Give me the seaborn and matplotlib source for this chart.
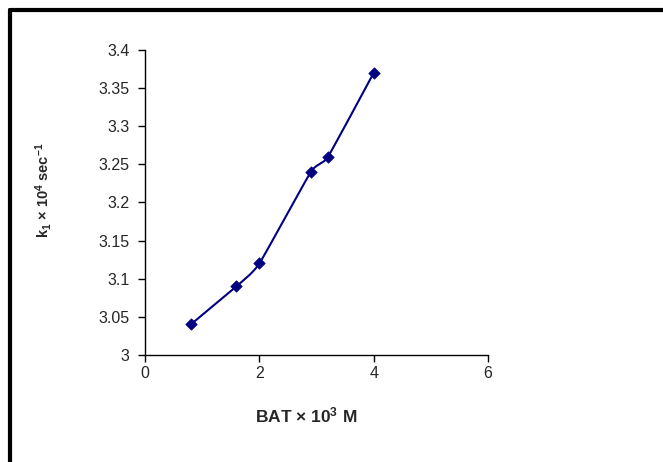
import numpy as np
import pandas as pd
import matplotlib
matplotlib.use("Agg")
import matplotlib.pyplot as plt
import seaborn as sns
from matplotlib.lines import Line2D

# 数据 (BAT x 10^3 M, k1 x 10^4 sec^-1)
bat = [0.8, 1.6, 2.0, 2.9, 3.2, 4.0]
k1 = [3.04, 3.09, 3.12, 3.24, 3.26, 3.37]

x_ticks = [0, 2, 4, 6]
y_ticks = [3, 3.05, 3.1, 3.15, 3.2, 3.25, 3.3, 3.35, 3.4]
y_tick_labels = ["3", "3.05", "3.1", "3.15", "3.2", "3.25", "3.3", "3.35", "3.4"]

sns.set_style("white")
plt.rcParams['font.family'] = ['Liberation Sans', 'DejaVu Sans']
plt.rcParams['mathtext.fontset'] = 'custom'
plt.rcParams['mathtext.rm'] = 'Liberation Sans:bold'
plt.rcParams['mathtext.default'] = 'rm'


def smooth_curve(xs, ys, n=30, tension=0.25):
    # Excel 风格平滑线 (Catmull-Rom)
    xs = np.asarray(xs, float)
    ys = np.asarray(ys, float)
    px = np.concatenate([[xs[0]], xs, [xs[-1]]])
    py = np.concatenate([[ys[0]], ys, [ys[-1]]])
    out_x, out_y = [], []
    t = np.linspace(0, 1, n)
    for i in range(1, len(px) - 2):
        p0, p1, p2, p3 = [np.array([px[j], py[j]]) for j in range(i - 1, i + 3)]
        m1 = tension * (p2 - p0)
        m2 = tension * (p3 - p1)
        h00 = 2 * t**3 - 3 * t**2 + 1
        h10 = t**3 - 2 * t**2 + t
        h01 = -2 * t**3 + 3 * t**2
        h11 = t**3 - t**2
        seg = (np.outer(h00, p1) + np.outer(h10, m1) +
               np.outer(h01, p2) + np.outer(h11, m2))
        out_x.extend(seg[:, 0])
        out_y.extend(seg[:, 1])
    return np.array(out_x), np.array(out_y)


df = pd.DataFrame({"BAT": bat, "k1": k1})
sx, sy = smooth_curve(bat, k1)
df_line = pd.DataFrame({"x": sx, "y": sy})

fig = plt.figure(figsize=(6.63, 4.62), dpi=100)
ax = fig.add_axes([0.2187, 0.2316, 0.5174, 0.6602])

navy = "#000080"
ax.plot(df_line["x"], df_line["y"], color=navy, linewidth=1.5, zorder=2)
sns.scatterplot(data=df, x="BAT", y="k1", marker="D", s=34, color=navy,
                edgecolor=navy, linewidth=0.5, ax=ax, zorder=3)

ax.set_xlim(0, 6)
ax.set_ylim(3, 3.4)
ax.set_xticks(x_ticks)
ax.set_xticklabels([str(v) for v in x_ticks])
ax.set_yticks(y_ticks)
ax.set_yticklabels(y_tick_labels)
ax.tick_params(axis="both", direction="out", length=5, width=1, color="black",
               labelsize=11.5, bottom=True, left=True)
ax.tick_params(axis="y", pad=6)
ax.tick_params(axis="x", pad=3)
ax.set_xlabel("")
ax.set_ylabel("")

for side in ["top", "right"]:
    ax.spines[side].set_visible(False)
for side in ["left", "bottom"]:
    ax.spines[side].set_color("black")
    ax.spines[side].set_linewidth(1)

# 坐标轴标题
fig.text(306 / 663, 1 - 415 / 462, "BAT × 10$^{3}$ M", ha="center", va="center",
         fontsize=12.5, fontweight="bold")
fig.text(43 / 663, 1 - 190 / 462, "k$_{1}$ × 10$^{4}$ sec$^{-1}$", ha="center",
         va="center", rotation=90, fontsize=10.5, fontweight="bold")

# 外框 (左、上)
fig.add_artist(Line2D([9.5 / 663, 9.5 / 663], [0, 1 - 9.5 / 462], transform=fig.transFigure,
                      color="black", linewidth=3))
fig.add_artist(Line2D([9.5 / 663, 1], [1 - 9.5 / 462, 1 - 9.5 / 462], transform=fig.transFigure,
                      color="black", linewidth=3))

fig.savefig("out.png", dpi=100)
